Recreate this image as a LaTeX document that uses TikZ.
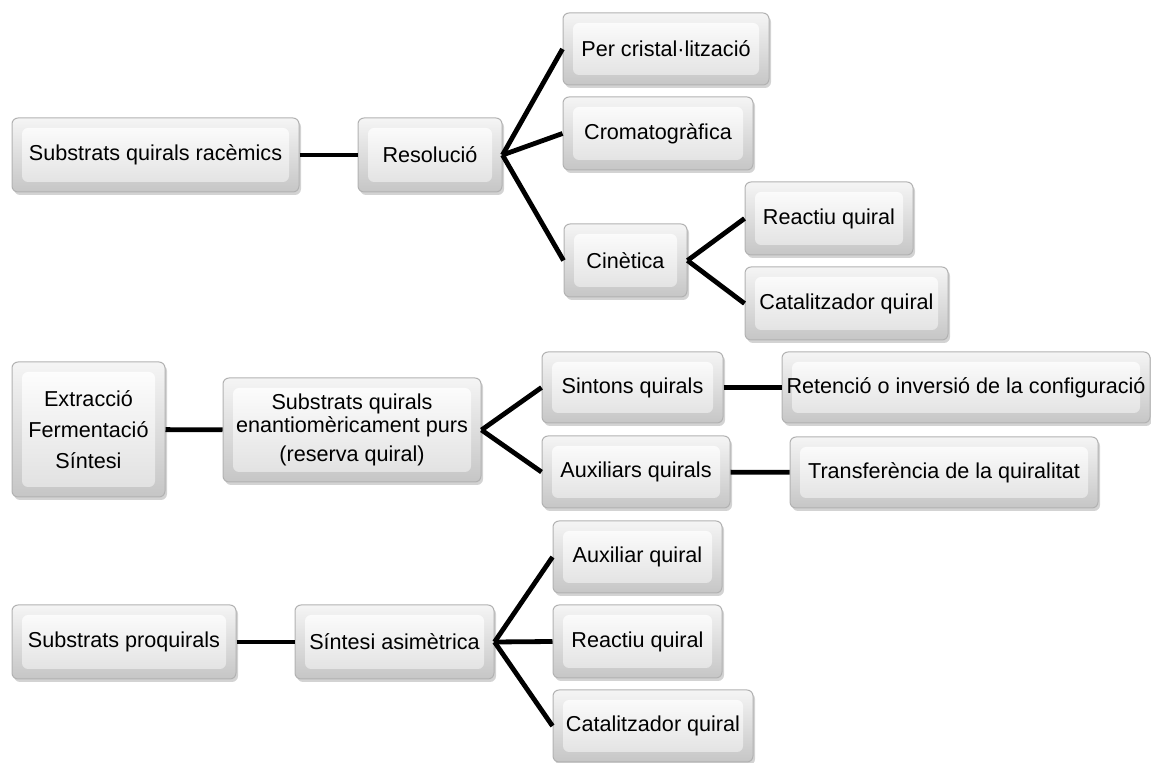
\documentclass[tikz,border=0pt]{standalone}
\usepackage{fontspec}
\setmainfont{Liberation Sans}
\usetikzlibrary{shadows}

\begin{document}
\begin{tikzpicture}[x=0.5pt, y=-0.5pt]

% ---------- styles ----------
\tikzset{
  box/.style={rounded corners=3pt, draw=gray!60, line width=0.5pt,
    top color=gray!8, bottom color=gray!45,
    drop shadow={opacity=0.35, shadow xshift=1pt, shadow yshift=-1.5pt},
    path picture={
      \shade[top color=white, bottom color=gray!25]
        ([shift={(5pt,-5pt)}]path picture bounding box.north west) rectangle
        ([shift={(-5pt,5pt)}]path picture bounding box.south east);
    },
    align=center, inner sep=0pt, font=\fontsize{10.8}{13}\selectfont},
  link/.style={line width=2.4pt, black}
}

\useasboundingbox (0,0) rectangle (1151,763);

% ---------- resolucio ----------
\node[box, minimum width=143.5pt, minimum height=37pt] (rac) at (155.5,155) {Substrats quirals racèmics};
\node[box, minimum width=72pt, minimum height=37pt] (res) at (430,155) {Resolució};
\node[box, minimum width=103pt, minimum height=36pt] (cris) at (666,49) {Per cristal·lització};
\node[box, minimum width=95pt, minimum height=36.5pt] (crom) at (658,133.5) {Cromatogràfica};
\node[box, minimum width=61.5pt, minimum height=36.5pt] (cin) at (625.5,260.5) {Cinètica};
\node[box, minimum width=84pt, minimum height=36.5pt] (rqa) at (829,218.5) {Reactiu quiral};
\node[box, minimum width=101.5pt, minimum height=36.5pt] (cqa) at (846.5,303.5) {Catalitzador quiral};

\draw[link] (rac) -- (res);
\draw[link] (res.east) -- (cris.west);
\draw[link] (res.east) -- (crom.west);
\draw[link] (res.east) -- (cin.west);
\draw[link] (cin.east) -- (rqa.west);
\draw[link] (cin.east) -- (cqa.west);

% ---------- reserva quiral ----------
\node[box, minimum width=76.5pt, minimum height=67.5pt] (ext) at (88.5,429.5)
  {Extracció\\[2.5pt]Fermentació\\[2.5pt]Síntesi};
\node[box, minimum width=129pt, minimum height=52pt] (pur) at (352,430)
  {Substrats quirals\\[-1.5pt]enantiomèricament purs\\[1.5pt](reserva quiral)};
\node[box, minimum width=90.5pt, minimum height=35.5pt] (sin) at (632.5,387.5) {Sintons quirals};
\node[box, minimum width=94pt, minimum height=36pt] (aux) at (636,472) {Auxiliars quirals};
\node[box, minimum width=184pt, minimum height=35.5pt] (ret) at (966,387.5) {Retenció o inversió de la configuració};
\node[box, minimum width=154pt, minimum height=35.5pt] (tra) at (944,472.5) {Transferència de la quiralitat};

\draw[link] (ext) -- (pur);
\draw[link] (pur.east) -- (sin.west);
\draw[link] (pur.east) -- (aux.west);
\draw[link] (sin) -- (ret);
\draw[link] (aux) -- (tra);

% ---------- sintesi asimetrica ----------
\node[box, minimum width=112pt, minimum height=37pt] (proq) at (124,642) {Substrats proquirals};
\node[box, minimum width=99.5pt, minimum height=37pt] (asim) at (394.5,642) {Síntesi asimètrica};
\node[box, minimum width=84.5pt, minimum height=36pt] (auxq) at (637.5,557) {Auxiliar quiral};
\node[box, minimum width=84.5pt, minimum height=36.5pt] (rqb) at (637.5,641.5) {Reactiu quiral};
\node[box, minimum width=100pt, minimum height=36pt] (cqb) at (653,726) {Catalitzador quiral};

\draw[link] (proq) -- (asim);
\draw[link] (asim.east) -- (auxq.west);
\draw[link] (asim.east) -- (rqb.west);
\draw[link] (asim.east) -- (cqb.west);

\end{tikzpicture}
\end{document}
